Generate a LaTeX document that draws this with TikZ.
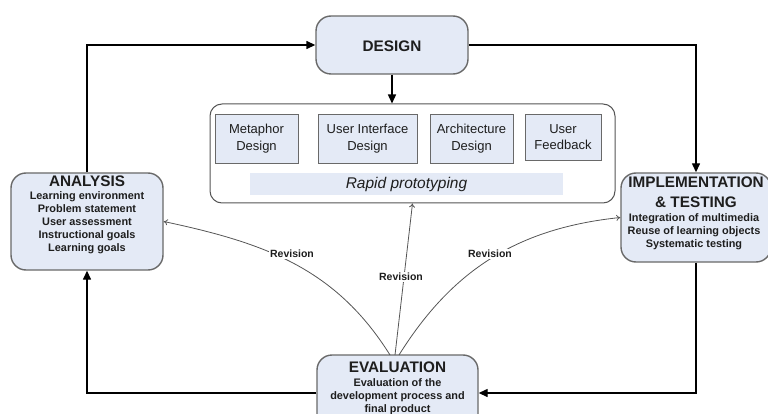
\documentclass[tikz,border=0pt]{standalone}
\usepackage{fontspec}
\setmainfont{Liberation Sans}
\usetikzlibrary{arrows.meta}
\definecolor{boxblue}{RGB}{228,234,246}
\definecolor{boxline}{RGB}{105,105,105}
\definecolor{txt}{RGB}{30,30,30}
\definecolor{revline}{RGB}{85,85,85}
\tikzset{
  mainbox/.style={draw=boxline, fill=boxblue, line width=1.4pt, rounded corners=15pt, inner sep=0pt},
  subbox/.style={draw=boxline, fill=boxblue, line width=0.9pt, inner sep=0pt, align=center, text=txt,
                 font=\fontsize{13}{16.5}\selectfont},
  container/.style={draw=revline, fill=white, line width=1pt, rounded corners=12pt, inner sep=0pt},
  band/.style={fill=boxblue, inner sep=0pt, text=txt, font=\fontsize{15.5}{17}\selectfont\itshape},
  ttl/.style={text=txt, font=\fontsize{15.3}{20}\selectfont\bfseries, align=center, inner sep=0pt},
  body/.style={text=txt, font=\fontsize{10.9}{13}\selectfont\bfseries, align=center, inner sep=0pt},
  flow/.style={draw=black, line width=1.4pt, -{Triangle[length=9pt,width=8pt]}},
  rev/.style={draw=revline, line width=0.8pt, -{To[length=4pt,width=6pt]}},
  revlbl/.style={fill=white, text=txt, font=\fontsize{10.5}{12}\selectfont\bfseries, inner sep=1.5pt}
}
\begin{document}
\begin{tikzpicture}[x=1pt,y=-1pt]
\useasboundingbox (0,0) rectangle (768,414);
% DESIGN
\node[mainbox, minimum width=152pt, minimum height=58pt] (design) at (392,45) {};
\node[ttl] (designt) at (392,46) {DESIGN};
% prototyping container
\node[container, minimum width=405pt, minimum height=99pt] (proto) at (412.5,153.5) {};
\node[subbox, minimum width=83pt, minimum height=49pt] (meta) at (256.5,138.5) {Metaphor\\Design};
\node[subbox, minimum width=99pt, minimum height=49pt] (ui) at (367.5,138.5) {User Interface\\Design};
\node[subbox, minimum width=83pt, minimum height=49pt] (arch) at (471.5,138.5) {Architecture\\Design};
\node[subbox, minimum width=76pt, minimum height=46pt] (fb) at (563,137) {User\\Feedback};
\node[band, minimum width=313pt, minimum height=22pt] (rapid) at (406.5,184) {Rapid prototyping};
% ANALYSIS
\node[mainbox, minimum width=152pt, minimum height=97pt] (ana) at (87,221.5) {};
\node[ttl] (anat) at (87,181) {ANALYSIS};
\node[body] (anab) at (87,223) {Learning environment\\Problem statement\\User assessment\\Instructional goals\\Learning goals};
% IMPLEMENTATION
\node[mainbox, minimum width=150pt, minimum height=89pt] (impl) at (696,217.5) {};
\node[ttl] (implt) at (696,192) {IMPLEMENTATION\\\& TESTING};
\node[body] (implb) at (694,232) {Integration of multimedia\\Reuse of learning objects\\Systematic testing};
% EVALUATION
\node[mainbox, minimum width=161pt, minimum height=76pt] (eval) at (397.5,393) {};
\node[ttl] (evalt) at (397.5,367) {EVALUATION};
\node[body] (evalb) at (397.5,396.5) {Evaluation of the\\development process and\\final product};
% main loop
\draw[flow] (ana.north) |- (design.west);
\draw[flow] (design.east) -| (impl.north);
\draw[flow] (impl.south) |- (eval.east);
\draw[flow] (eval.west) -| (ana.south);
\draw[flow] (design.south) -- (proto.north -| design.south);
% revisions
\coordinate (r1) at (390,355);
\coordinate (r2) at (395,355);
\coordinate (r3) at (399,355);
\draw[rev] (r1) to[out=122, in=-12] (ana.east);
\draw[rev] (r2) -- (proto.south);
\draw[rev] (r3) to[out=58, in=186] (impl.west);
\node[revlbl] (rl1) at (292,254) {Revision};
\node[revlbl] (rl2) at (401,277) {Revision};
\node[revlbl] (rl3) at (490,254) {Revision};
\end{tikzpicture}
\end{document}
